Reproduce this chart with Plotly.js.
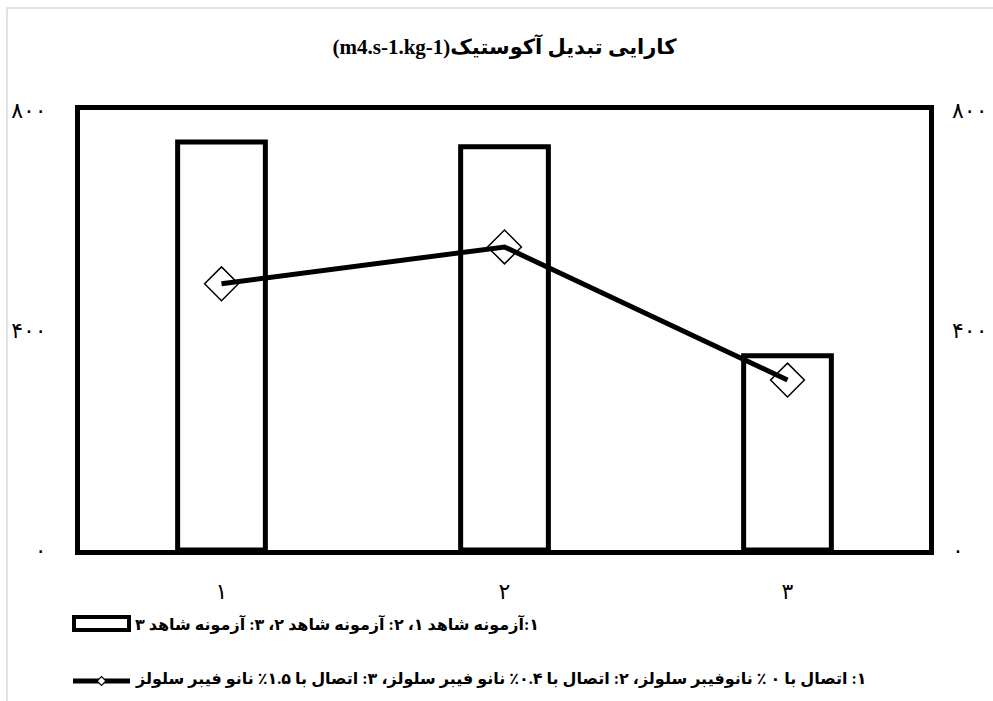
<!DOCTYPE html>
<html>
<head>
<meta charset="utf-8">
<script src="https://cdn.plot.ly/plotly-3.0.1.min.js"></script>
<style>
  body { margin: 0; background: #fff; }
  #chart { width: 993px; height: 701px; }
</style>
</head>
<body>
<div id="chart"></div>
<script>
var categories = ['۱', '۲', '۳'];
var barValues = [742, 733, 353];
var lineValues = [484, 551, 309];
var yTickVals = [0, 400, 800];
var yTickText = ['۰', '۴۰۰', '۸۰۰'];
var barName = '\u202B۱:آزمونه شاهد ۱، ۲: آزمونه شاهد ۲، ۳: آزمونه شاهد ۳\u202C';
var lineName = '\u202B۱: اتصال با ۰ ٪ نانوفیبر سلولز، ۲: اتصال با ۰.۴٪ نانو فیبر سلولز، ۳: اتصال با ۱.۵٪ نانو فیبر سلولز\u202C';
var chartTitle = '(m4.s-1.kg-1)کارایی تبدیل آکوستیک';

var FONT = 'Times New Roman, Liberation Serif, DejaVu Sans, serif';

// plot area in pixels, used for the hand made legend and the outer frame
var L = 80, T = 110, W = 849, H = 440;
function px(x) { return (x - L) / W; }
function py(y) { return (T + H - y) / H; }

var bars = {
  x: categories,
  y: barValues,
  type: 'bar',
  name: barName,
  width: 0.31,
  marker: {color: 'white', line: {color: 'black', width: 5}},
  showlegend: false
};

var line = {
  x: categories,
  y: lineValues,
  type: 'scatter',
  mode: 'lines+markers',
  name: lineName,
  yaxis: 'y2',
  line: {color: 'black', width: 5},
  marker: {symbol: 'diamond-open', size: 26, color: 'black', line: {width: 1.5, color: 'black'}},
  showlegend: false
};

var axisY = {
  range: [0, 800],
  tickvals: yTickVals,
  ticktext: yTickText,
  showgrid: false,
  zeroline: false,
  ticks: '',
  ticklabelstandoff: 24,
  tickfont: {family: FONT, size: 22, color: 'black'},
  fixedrange: true
};

var layout = {
  width: 993,
  height: 701,
  margin: {l: L, r: 993 - L - W, t: T, b: 701 - T - H},
  paper_bgcolor: 'white',
  plot_bgcolor: 'white',
  showlegend: false,
  title: {
    text: chartTitle,
    font: {family: FONT, size: 21, color: 'black', weight: 'bold'},
    x: 0.5, xref: 'paper', xanchor: 'center',
    y: 1 - 47 / 701, yanchor: 'middle'
  },
  xaxis: {
    type: 'category',
    showline: true, mirror: true, linecolor: 'black', linewidth: 5,
    showgrid: false, zeroline: false, ticks: '',
    ticklabelstandoff: 18,
    tickfont: {family: FONT, size: 22, color: 'black'}
  },
  yaxis: Object.assign({}, axisY, {
    showline: true, mirror: true, linecolor: 'black', linewidth: 5
  }),
  yaxis2: Object.assign({}, axisY, {overlaying: 'y', side: 'right', showline: false, ticklabelstandoff: 22}),
  shapes: [
    // light outer frame of the chart
    {type: 'rect', xref: 'paper', yref: 'paper', layer: 'below',
     x0: px(7), x1: px(1010), y0: py(8), y1: py(720),
     line: {color: '#d9d9d9', width: 1.5}, fillcolor: 'rgba(0,0,0,0)'},
    // legend key: bars
    {type: 'rect', xref: 'paper', yref: 'paper',
     x0: px(74), x1: px(129), y0: py(617), y1: py(630),
     line: {color: 'black', width: 4}, fillcolor: 'white'},
    // legend key: line with diamond
    {type: 'line', xref: 'paper', yref: 'paper',
     x0: px(73), x1: px(130), y0: py(681), y1: py(681),
     line: {color: 'black', width: 5}},
    {type: 'path', xref: 'paper', yref: 'paper',
     path: 'M' + px(97) + ',' + py(681) + ' L' + px(101.5) + ',' + py(676.5) +
           ' L' + px(106) + ',' + py(681) + ' L' + px(101.5) + ',' + py(685.5) + ' Z',
     line: {color: 'black', width: 1.2}, fillcolor: 'white'}
  ],
  annotations: [
    {text: barName, xref: 'paper', yref: 'paper', x: px(133), y: py(624),
     xanchor: 'left', yanchor: 'middle', showarrow: false,
     font: {family: FONT, size: 16, color: 'black', weight: 'bold'}},
    {text: lineName, xref: 'paper', yref: 'paper', x: px(133), y: py(679),
     xanchor: 'left', yanchor: 'middle', showarrow: false,
     font: {family: FONT, size: 16, color: 'black', weight: 'bold'}}
  ]
};

Plotly.newPlot('chart', [bars, line], layout, {displayModeBar: false, staticPlot: true});
</script>
</body>
</html>
